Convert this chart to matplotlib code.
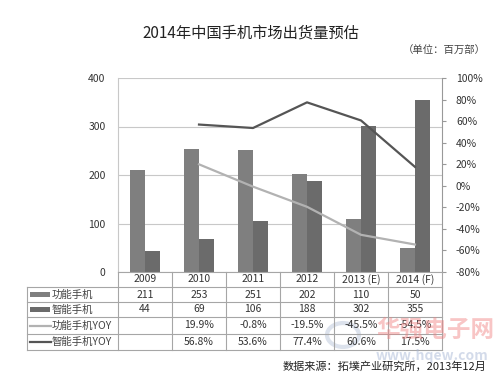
import matplotlib
matplotlib.use('Agg')
import matplotlib.pyplot as plt
from matplotlib.lines import Line2D
from matplotlib.patches import Rectangle, Circle
import numpy as np

plt.rcParams['font.family'] = ['Noto Sans CJK SC', 'DejaVu Sans']
plt.rcParams['axes.unicode_minus'] = False

# 数据
years = ['2009', '2010', '2011', '2012', '2013 (E)', '2014 (F)']
feature = [211, 253, 251, 202, 110, 50]
smart = [44, 69, 106, 188, 302, 355]
feature_yoy = [np.nan, 19.9, -0.8, -19.5, -45.5, -54.5]
smart_yoy = [np.nan, 56.8, 53.6, 77.4, 60.6, 17.5]
series_names = ['功能手机', '智能手机', '功能手机YOY', '智能手机YOY']

W, H = 500, 373

def fx(x):
    return x / W

def fy(y):
    return 1 - y / H

colors = {
    'feature': '#7f7f7f',
    'smart': '#6b6b6b',
    'feature_yoy': '#b2b2b2',
    'smart_yoy': '#555555',
    'grid': '#c8c8c8',
    'text': '#333333',
}

fig = plt.figure(figsize=(5.0, 3.73), dpi=100)
fig.patch.set_facecolor('white')

# 主图区域 (像素: x 118-442, y 78-272)
ax = fig.add_axes([fx(118), fy(272), (442 - 118) / W, (272 - 78) / H])
x = np.arange(len(years))
bw = 0.28
ax.bar(x - bw / 2, feature, bw, color=colors['feature'], zorder=3)
ax.bar(x + bw / 2, smart, bw, color=colors['smart'], zorder=3)
ax.set_xlim(-0.5, len(years) - 0.5)
ax.set_ylim(0, 400)
ax.set_yticks([0, 100, 200, 300, 400])
ax.yaxis.grid(True, color=colors['grid'], lw=0.8, zorder=0)
ax.set_axisbelow(True)
ax.set_xticks([])
ax.tick_params(axis='y', length=0, pad=9, labelsize=7.5, labelcolor=colors['text'])
for s in ['top', 'bottom']:
    ax.spines[s].set_visible(False)
ax.spines['left'].set_color(colors['grid'])
ax.spines['right'].set_visible(False)

ax2 = ax.twinx()
ax2.plot(x, feature_yoy, color=colors['feature_yoy'], lw=1.6, zorder=4)
ax2.plot(x, smart_yoy, color=colors['smart_yoy'], lw=1.6, zorder=4)
ax2.set_ylim(-80, 100)
ax2.set_yticks(np.arange(-80, 101, 20))
ax2.set_yticklabels([f'{v}%' for v in range(-80, 101, 20)])
ax2.tick_params(axis='y', length=3, color='#999999', pad=7, labelsize=7.5,
                labelcolor=colors['text'])
for s in ['top', 'bottom', 'left']:
    ax2.spines[s].set_visible(False)
ax2.spines['right'].set_color('#999999')

# 标题
fig.text(fx(251), fy(33), '2014年中国手机市场出货量预估', fontsize=11,
         ha='center', va='center', color='#222222')
fig.text(fx(486), fy(51), '（单位：百万部）', fontsize=7.5,
         ha='right', va='center', color='#444444')

# 数据表
line_c = '#a6a6a6'
col_w = (442 - 118) / len(years)
rows_y = [272, 287, 302, 317, 334, 350]

def hline(y, x0, x1):
    fig.add_artist(Line2D([fx(x0), fx(x1)], [fy(y), fy(y)], color=line_c, lw=0.8))

def vline(xp, y0, y1):
    fig.add_artist(Line2D([fx(xp), fx(xp)], [fy(y0), fy(y1)], color=line_c, lw=0.8))

hline(272, 118, 442)
for y in rows_y[1:]:
    hline(y, 27, 442)
vline(27, 287, 350)
for k in range(len(years) + 1):
    vline(118 + k * col_w, 272, 350)

for k, yr in enumerate(years):
    fig.text(fx(118 + (k + 0.5) * col_w), fy(279.5), yr, fontsize=7.5,
             ha='center', va='center', color=colors['text'])

row_vals = [
    [str(v) for v in feature],
    [str(v) for v in smart],
    ['' if np.isnan(v) else f'{v:.1f}%' for v in feature_yoy],
    ['' if np.isnan(v) else f'{v:.1f}%' for v in smart_yoy],
]
legend_kind = ['bar', 'bar', 'line', 'line']
legend_col = [colors['feature'], colors['smart'], colors['feature_yoy'], colors['smart_yoy']]

for r in range(4):
    yc = (rows_y[r + 1] + rows_y[r + 2]) / 2
    if legend_kind[r] == 'bar':
        fig.add_artist(Rectangle((fx(30), fy(yc + 2.5)), (50 - 30) / W, 5 / H,
                                 facecolor=legend_col[r], edgecolor='none'))
    else:
        fig.add_artist(Line2D([fx(30), fx(51)], [fy(yc), fy(yc)],
                              color=legend_col[r], lw=1.6))
    fig.text(fx(52), fy(yc), series_names[r], fontsize=7.5,
             ha='left', va='center', color='#444444')
    for k, v in enumerate(row_vals[r]):
        fig.text(fx(118 + (k + 0.5) * col_w), fy(yc), v, fontsize=7.5,
                 ha='center', va='center', color=colors['text'])

# 水印
fig.add_artist(Circle((fx(343), fy(335)), 16 / W, transform=fig.transFigure,
                      facecolor='none', edgecolor='#c5cfe0', lw=3, alpha=0.6))
fig.text(fx(435), fy(330), '华强电子网', fontsize=17, fontweight='bold',
         ha='center', va='center', color='#f08080', alpha=0.45)
fig.text(fx(432), fy(356), 'www.hqew.com', fontsize=10, fontweight='bold',
         ha='center', va='center', color='#a9b8d6', alpha=0.5, style='italic')

# 数据来源
fig.text(fx(486), fy(366), '数据来源：拓墣产业研究所，2013年12月', fontsize=8,
         ha='right', va='center', color='#222222')

fig.savefig('out.png', dpi=100, facecolor='white')
